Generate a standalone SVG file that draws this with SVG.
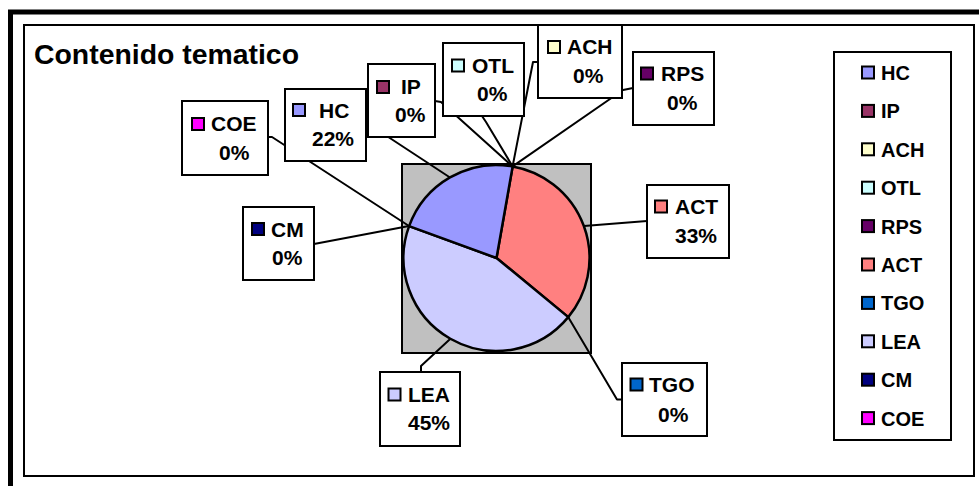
<svg xmlns="http://www.w3.org/2000/svg" width="979" height="486" viewBox="0 0 979 486">
  <style>
    text { font-family: "Liberation Sans", Arial, sans-serif; font-weight: bold; fill: #000; }
    .lbl { font-size: 21px; }
    .leg { font-size: 20px; }
    .box { fill: #fff; stroke: #000; stroke-width: 2; }
    .sw { stroke: #000; stroke-width: 2; }
    .lead { fill: none; stroke: #000; stroke-width: 2; stroke-linejoin: round; }
    .slice { stroke: #000; stroke-width: 2.5; stroke-linejoin: round; }
  </style>

  <rect width="979" height="486" fill="#fff"/>

  <!-- chart frames -->
  <path d="M10.5,490 V12 H985" fill="none" stroke="#000" stroke-width="5"/>
  <rect x="24" y="25" width="950" height="451" fill="#fff" stroke="#000" stroke-width="2"/>

  <text x="34" y="64" font-size="27" textLength="265" lengthAdjust="spacingAndGlyphs">Contenido tematico</text>

  <!-- plot area and pie -->
  <g id="pie">
    <rect x="402" y="164" width="189" height="189" fill="#c0c0c0" stroke="#000" stroke-width="2"/>
    <path class="slice" fill="#ff8080" d="M496.5,258 L512.65,166.4 A93,93 0 0 1 568.26,317.16 Z"/>
    <path class="slice" fill="#ccccff" d="M496.5,258 L568.26,317.16 A93,93 0 0 1 409.11,226.19 Z"/>
    <path class="slice" fill="#9999ff" d="M496.5,258 L409.11,226.19 A93,93 0 0 1 512.65,166.4 Z"/>
  </g>

  <!-- leader lines -->
  <g id="connectors">
    <polyline class="lead" points="268,137 272,137 409,226"/>
    <polyline class="lead" points="314,244 409,226"/>
    <polyline class="lead" points="366,125 370,125 450,177.5"/>
    <polyline class="lead" points="435,101 441,102 512.6,166.4"/>
    <polyline class="lead" points="482,116 486,122 512.6,166.4"/>
    <polyline class="lead" points="538,62 533,62 512.6,166.4"/>
    <polyline class="lead" points="633,88 623,90 512.6,166.4"/>
    <polyline class="lead" points="647,221 584,226"/>
    <polyline class="lead" points="568.3,317.2 617,399.5 622,399.5"/>
    <polyline class="lead" points="450.4,338.7 421,366 421,372"/>
  </g>

  <!-- data labels -->
  <g id="label-coe">
    <rect class="box" x="182" y="101" width="86" height="74"/>
    <rect class="sw" x="192" y="118" width="12" height="12" fill="#ff00ff"/>
    <text class="lbl" x="211" y="131">COE</text>
    <text class="lbl" x="219" y="160">0%</text>
  </g>
  <g id="label-hc">
    <rect class="box" x="285" y="89" width="81" height="72"/>
    <rect class="sw" x="293" y="104" width="12" height="12" fill="#9999ff"/>
    <text class="lbl" x="319" y="118">HC</text>
    <text class="lbl" x="312" y="146">22%</text>
  </g>
  <g id="label-ip">
    <rect class="box" x="368" y="64" width="67" height="73"/>
    <rect class="sw" x="377" y="81" width="12" height="12" fill="#993366"/>
    <text class="lbl" x="401" y="94">IP</text>
    <text class="lbl" x="395" y="122">0%</text>
  </g>
  <g id="label-otl">
    <rect class="box" x="443" y="43" width="81" height="73"/>
    <rect class="sw" x="452" y="59.5" width="12" height="12" fill="#ccffff"/>
    <text class="lbl" x="472" y="73">OTL</text>
    <text class="lbl" x="477" y="101">0%</text>
  </g>
  <g id="label-ach">
    <rect class="box" x="538" y="25" width="84" height="73"/>
    <rect class="sw" x="548" y="41" width="12" height="12" fill="#ffffcc"/>
    <text class="lbl" x="567" y="54">ACH</text>
    <text class="lbl" x="573" y="83">0%</text>
  </g>
  <g id="label-rps">
    <rect class="box" x="633" y="52" width="81" height="73"/>
    <rect class="sw" x="641" y="67.5" width="12" height="12" fill="#660066"/>
    <text class="lbl" x="661" y="81">RPS</text>
    <text class="lbl" x="667" y="110">0%</text>
  </g>
  <g id="label-act">
    <rect class="box" x="647" y="185" width="82" height="73"/>
    <rect class="sw" x="655" y="200.5" width="12" height="12" fill="#ff8080"/>
    <text class="lbl" x="675" y="214">ACT</text>
    <text class="lbl" x="675" y="243">33%</text>
  </g>
  <g id="label-tgo">
    <rect class="box" x="622" y="363" width="85" height="73"/>
    <rect class="sw" x="630.5" y="378.5" width="12" height="12" fill="#0066cc"/>
    <text class="lbl" x="649" y="392">TGO</text>
    <text class="lbl" x="658" y="422">0%</text>
  </g>
  <g id="label-lea">
    <rect class="box" x="380" y="372" width="80" height="74"/>
    <rect class="sw" x="388.5" y="388.5" width="12" height="12" fill="#ccccff"/>
    <text class="lbl" x="408" y="402">LEA</text>
    <text class="lbl" x="408" y="430">45%</text>
  </g>
  <g id="label-cm">
    <rect class="box" x="243" y="207" width="71" height="73"/>
    <rect class="sw" x="252" y="223" width="12" height="12" fill="#000080"/>
    <text class="lbl" x="271" y="237">CM</text>
    <text class="lbl" x="272" y="265">0%</text>
  </g>

  <!-- legend -->
  <g id="legend">
    <rect class="box" x="834" y="52" width="117" height="388"/>
    <rect class="sw" x="862" y="66.5" width="12" height="12" fill="#9999ff"/>
    <text class="leg" x="881" y="80">HC</text>
    <rect class="sw" x="862" y="104.9" width="12" height="12" fill="#993366"/>
    <text class="leg" x="881" y="118.4">IP</text>
    <rect class="sw" x="862" y="143.3" width="12" height="12" fill="#ffffcc"/>
    <text class="leg" x="881" y="156.8">ACH</text>
    <rect class="sw" x="862" y="181.7" width="12" height="12" fill="#ccffff"/>
    <text class="leg" x="881" y="195.2">OTL</text>
    <rect class="sw" x="862" y="220.1" width="12" height="12" fill="#660066"/>
    <text class="leg" x="881" y="233.6">RPS</text>
    <rect class="sw" x="862" y="258.5" width="12" height="12" fill="#ff8080"/>
    <text class="leg" x="881" y="272">ACT</text>
    <rect class="sw" x="862" y="296.9" width="12" height="12" fill="#0066cc"/>
    <text class="leg" x="881" y="310.4">TGO</text>
    <rect class="sw" x="862" y="335.3" width="12" height="12" fill="#ccccff"/>
    <text class="leg" x="881" y="348.8">LEA</text>
    <rect class="sw" x="862" y="373.7" width="12" height="12" fill="#000080"/>
    <text class="leg" x="881" y="387.2">CM</text>
    <rect class="sw" x="862" y="412.1" width="12" height="12" fill="#ff00ff"/>
    <text class="leg" x="881" y="425.6">COE</text>
  </g>
</svg>
